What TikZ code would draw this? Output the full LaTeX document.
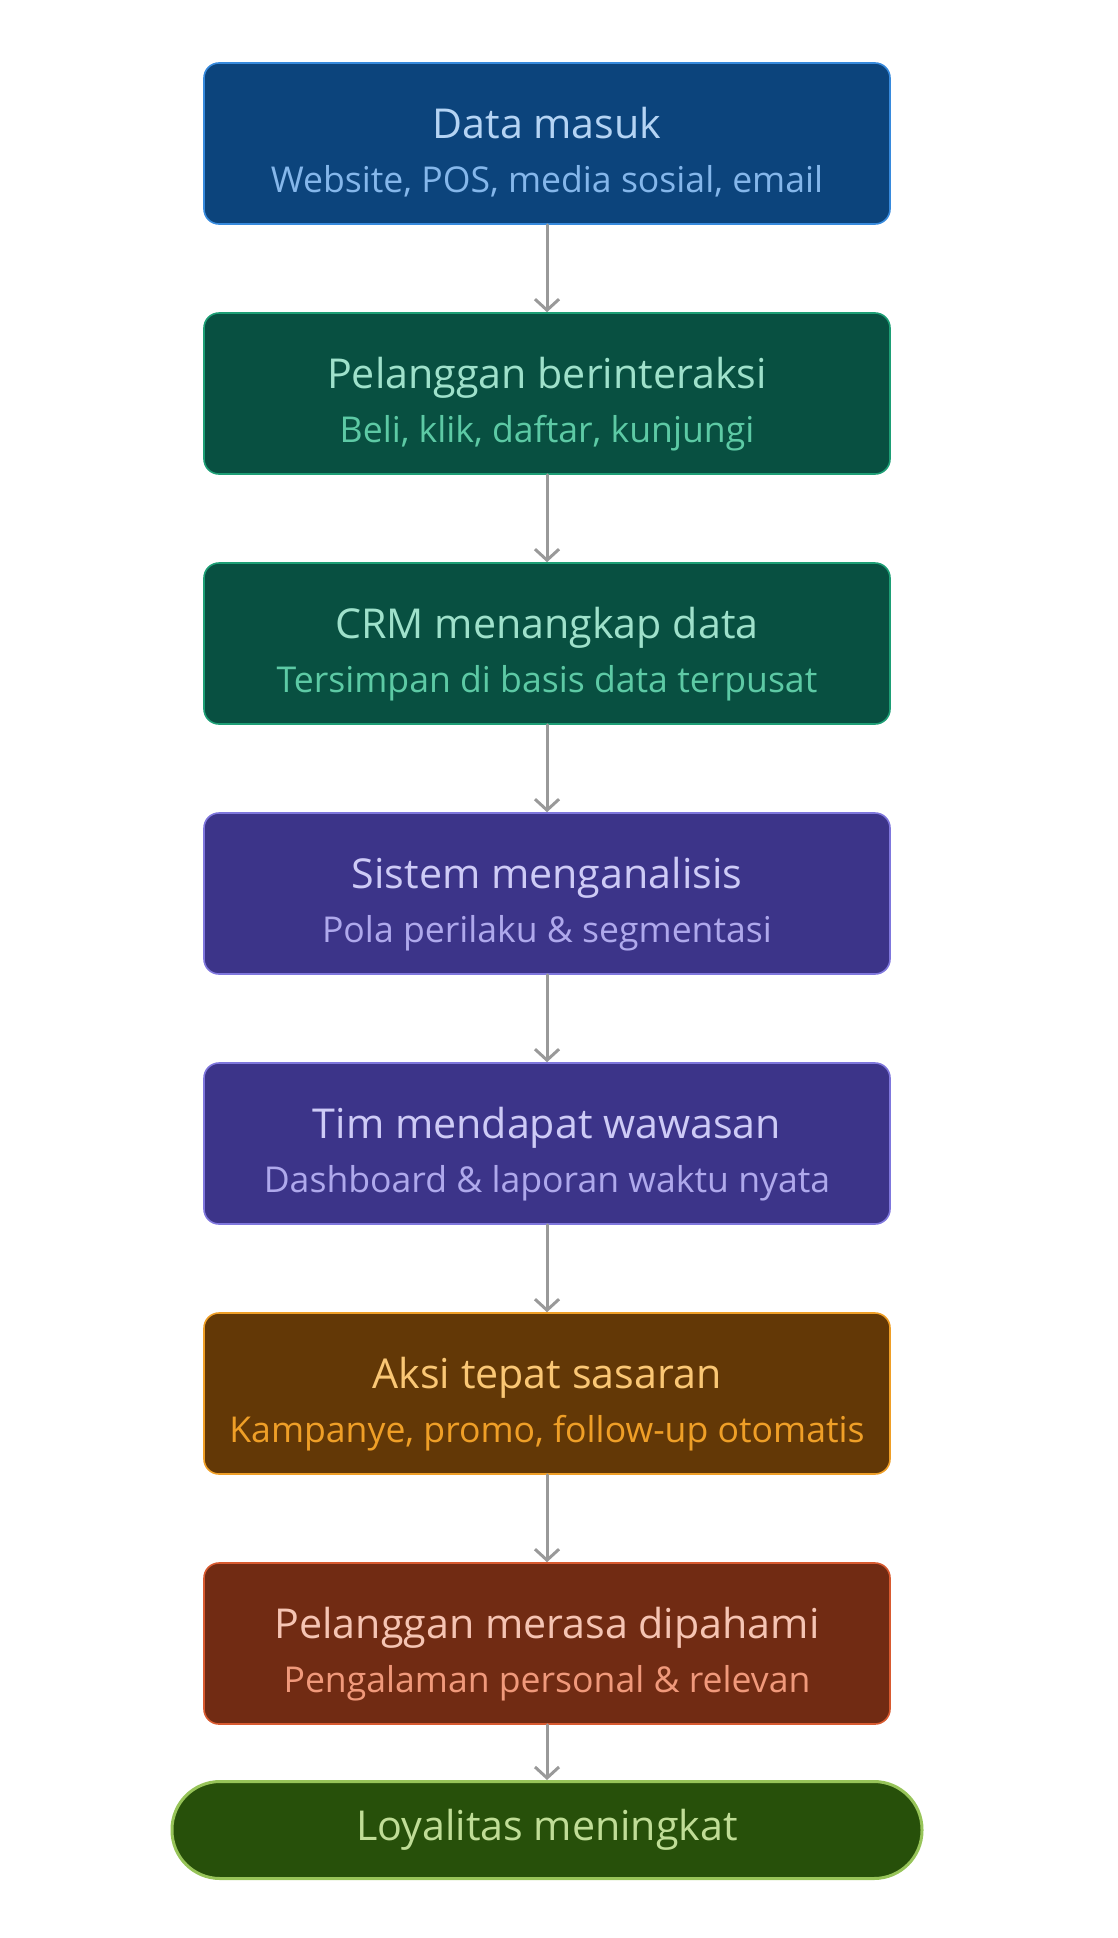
\documentclass[tikz,border=0pt]{standalone}
\usepackage{fontspec}
\setmainfont{Open Sans}
\usetikzlibrary{arrows.meta}

\definecolor{bluF}{HTML}{0C447C}\definecolor{bluD}{HTML}{378ADD}\definecolor{bluT}{HTML}{B5D4F4}\definecolor{bluS}{HTML}{85B7EB}
\definecolor{teaF}{HTML}{085041}\definecolor{teaD}{HTML}{1D9E75}\definecolor{teaT}{HTML}{9FE1CB}\definecolor{teaS}{HTML}{5DCAA5}
\definecolor{purF}{HTML}{3C3489}\definecolor{purD}{HTML}{7F77DD}\definecolor{purT}{HTML}{CECBF6}\definecolor{purS}{HTML}{AFA9EC}
\definecolor{ambF}{HTML}{633806}\definecolor{ambD}{HTML}{EF9F27}\definecolor{ambT}{HTML}{FAC775}\definecolor{ambS}{HTML}{EF9F27}
\definecolor{corF}{HTML}{712B13}\definecolor{corD}{HTML}{D85A30}\definecolor{corT}{HTML}{F5C4B3}\definecolor{corS}{HTML}{F0997B}
\definecolor{grnF}{HTML}{27500A}\definecolor{grnD}{HTML}{97C459}\definecolor{grnT}{HTML}{C0DD97}
\definecolor{arrowgray}{HTML}{999999}

\begin{document}
\begin{tikzpicture}[x=0.5pt, y=-0.5pt, >={Straight Barb[length=5.5pt, width=12pt]},
	st/.style={draw, rounded corners=7.5pt, line width=0.8pt, minimum width=343pt, minimum height=80.5pt},
	ttl/.style={anchor=base, inner sep=0pt, font=\fontsize{20.6}{24}\selectfont},
	subl/.style={anchor=base, inner sep=0pt, font=\fontsize{17.8}{21}\selectfont}]
	\useasboundingbox (0,0) rectangle (1118,1938);
	\foreach \i/\col/\head/\tail in {1/blu/Data masuk/{Website, POS, media sosial, email},
		2/tea/Pelanggan berinteraksi/{Beli, klik, daftar, kunjungi},
		3/tea/CRM menangkap data/Tersimpan di basis data terpusat,
		4/pur/Sistem menganalisis/Pola perilaku \& segmentasi,
		5/pur/Tim mendapat wawasan/Dashboard \& laporan waktu nyata,
		6/amb/Aksi tepat sasaran/{Kampanye, promo, follow-up otomatis},
		7/cor/Pelanggan merasa dipahami/Pengalaman personal \& relevan} {
		\node[st, fill=\col F, draw=\col D] (s\i) at (547,{143.5+250*(\i-1)}) {};
		\node[ttl, text=\col T] (t\i) at ([yshift=2.6pt]s\i.center) {\head};
		\node[subl, text=\col S] (u\i) at ([yshift=-24.5pt]s\i.center) {\tail};
	}
	\node[draw=grnD, fill=grnF, line width=1.5pt, rounded corners=24pt, minimum width=375pt, minimum height=48.5pt, text=grnT, font=\fontsize{20.6}{24}\selectfont] (fin) at (547,1830) {Loyalitas meningkat};
	\foreach \a/\b in {s1/s2, s2/s3, s3/s4, s4/s5, s5/s6, s6/s7, s7/fin} {\draw[->, line width=1.5pt, arrowgray, line cap=round] (\a) -- (\b);}
\end{tikzpicture}
\end{document}
